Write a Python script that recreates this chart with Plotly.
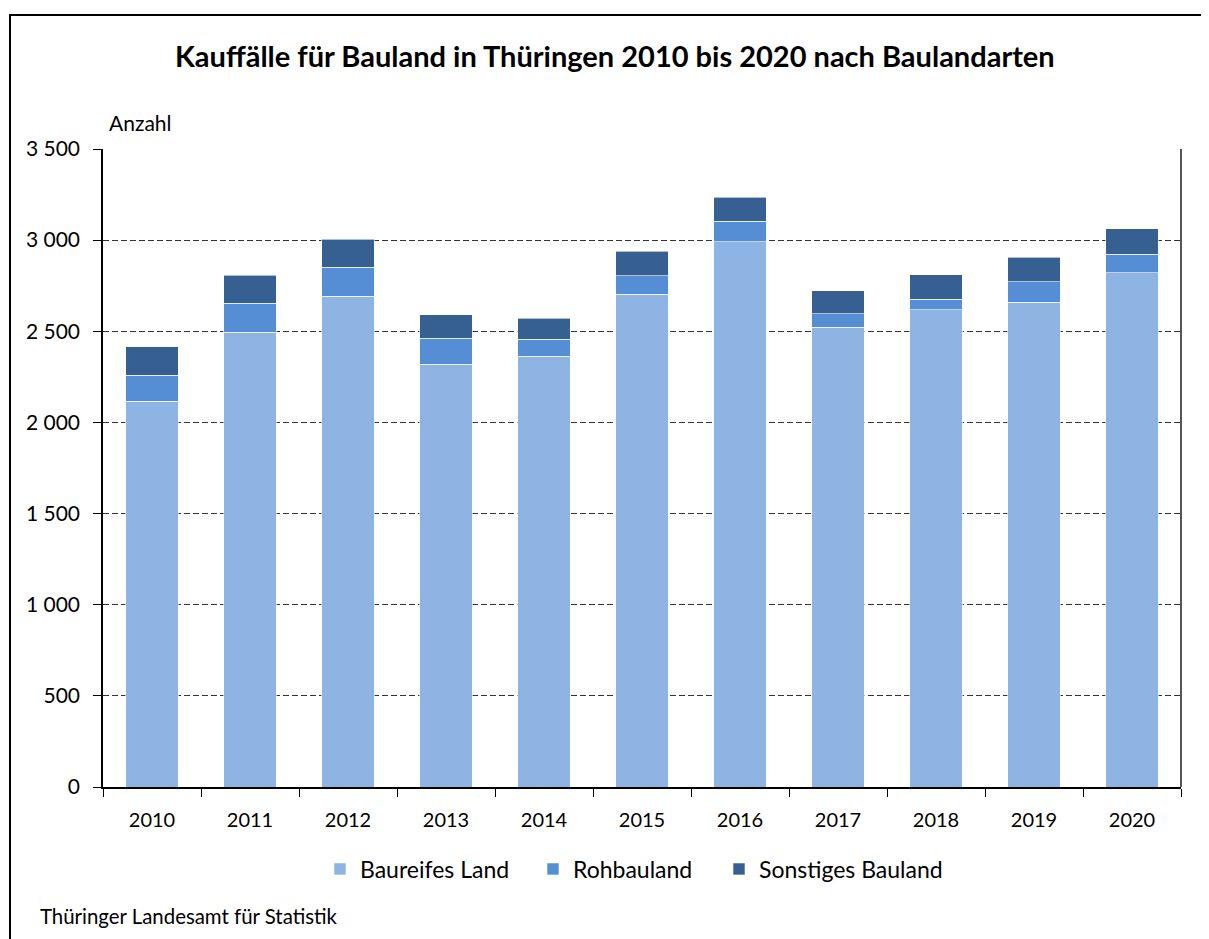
import plotly.graph_objects as go

years = ["2010", "2011", "2012", "2013", "2014", "2015", "2016", "2017", "2018", "2019", "2020"]
baureifes = [2117, 2496, 2693, 2320, 2364, 2704, 2990, 2523, 2617, 2660, 2820]
rohbau = [143, 157, 158, 143, 92, 101, 113, 72, 60, 112, 102]
sonstiges = [155, 154, 153, 128, 115, 134, 133, 128, 133, 135, 141]
series_names = ["Baureifes Land", "Rohbauland", "Sonstiges Bauland"]
colors = ["#8EB4E3", "#558ED5", "#366092"]
y_ticks = [0, 500, 1000, 1500, 2000, 2500, 3000, 3500]
y_labels = ["0", "500", "1 000", "1 500", "2 000", "2 500", "3 000", "3 500"]

FONT = "Lato"
OFF = 8  # page body margin


def px(xp):
    return (xp - 103) / 1078


def py(yp):
    return (787 - yp) / 638


legend_ids = ["legend", "legend2", "legend3"]
legend_x = [338, 551, 737]  # left edge of legend squares (pixels)

fig = go.Figure()
for name, vals, col, lid in zip(series_names, [baureifes, rohbau, sonstiges], colors, legend_ids):
    fig.add_trace(go.Bar(
        x=years, y=vals, name=name, legend=lid,
        marker=dict(color=col, line=dict(color="rgba(255,255,255,0.6)", width=1)),
    ))

legend_common = dict(orientation="h", xanchor="left", yanchor="middle", y=py(869),
                     font=dict(size=23), itemwidth=30, bgcolor="rgba(0,0,0,0)")

fig.update_layout(
    barmode="stack",
    bargap=0.46,
    width=1209, height=939,
    margin=dict(l=103 - OFF, r=1209 - 1181 + OFF, t=149 - OFF, b=939 - 787 + OFF),
    paper_bgcolor="white", plot_bgcolor="white",
    font=dict(family=FONT, size=20, color="#000000"),
    showlegend=True,
    legend=dict(x=px(legend_x[0] - 18), **legend_common),
    legend2=dict(x=px(legend_x[1] - 18), **legend_common),
    legend3=dict(x=px(legend_x[2] - 18), **legend_common),
    xaxis=dict(type="category", showline=True, linecolor="#000000", linewidth=1.5,
               ticks="outside", tickson="boundaries", ticklen=8, tickcolor="#000000",
               showgrid=False, tickfont=dict(size=20), ticklabelstandoff=14),
    yaxis=dict(range=[0, 3500], tickvals=y_ticks, ticktext=y_labels,
               showline=True, linecolor="#000000", linewidth=1.5,
               ticks="outside", ticklen=8, tickcolor="#000000",
               showgrid=True, gridcolor="#333333", griddash="6px,3px", gridwidth=1,
               zeroline=False, tickfont=dict(size=21), ticklabelstandoff=9),
)

fig.layout.annotations = [
    dict(text="<b>Kauffälle für Bauland in Thüringen 2010 bis 2020 nach Baulandarten</b>",
         x=px(615), y=py(55), xref="paper", yref="paper", showarrow=False,
         xanchor="center", yanchor="middle", font=dict(size=29)),
    dict(text="Anzahl", x=px(107), y=py(123), xref="paper", yref="paper", showarrow=False,
         xanchor="left", yanchor="middle", font=dict(size=21)),
    dict(text="Thüringer Landesamt für Statistik", x=px(38), y=py(916), xref="paper", yref="paper",
         showarrow=False, xanchor="left", yanchor="middle", font=dict(size=20.4)),
]
fig.add_shape(type="rect", xref="paper", yref="paper", x0=px(10), x1=px(1230), y0=py(970), y1=py(15),
              line=dict(color="#000000", width=2), fillcolor="rgba(0,0,0,0)", layer="below")
fig.add_shape(type="line", xref="paper", yref="paper", x0=1, x1=1, y0=0, y1=1,
              line=dict(color="#555555", width=2))

fig.write_html("out.html")
